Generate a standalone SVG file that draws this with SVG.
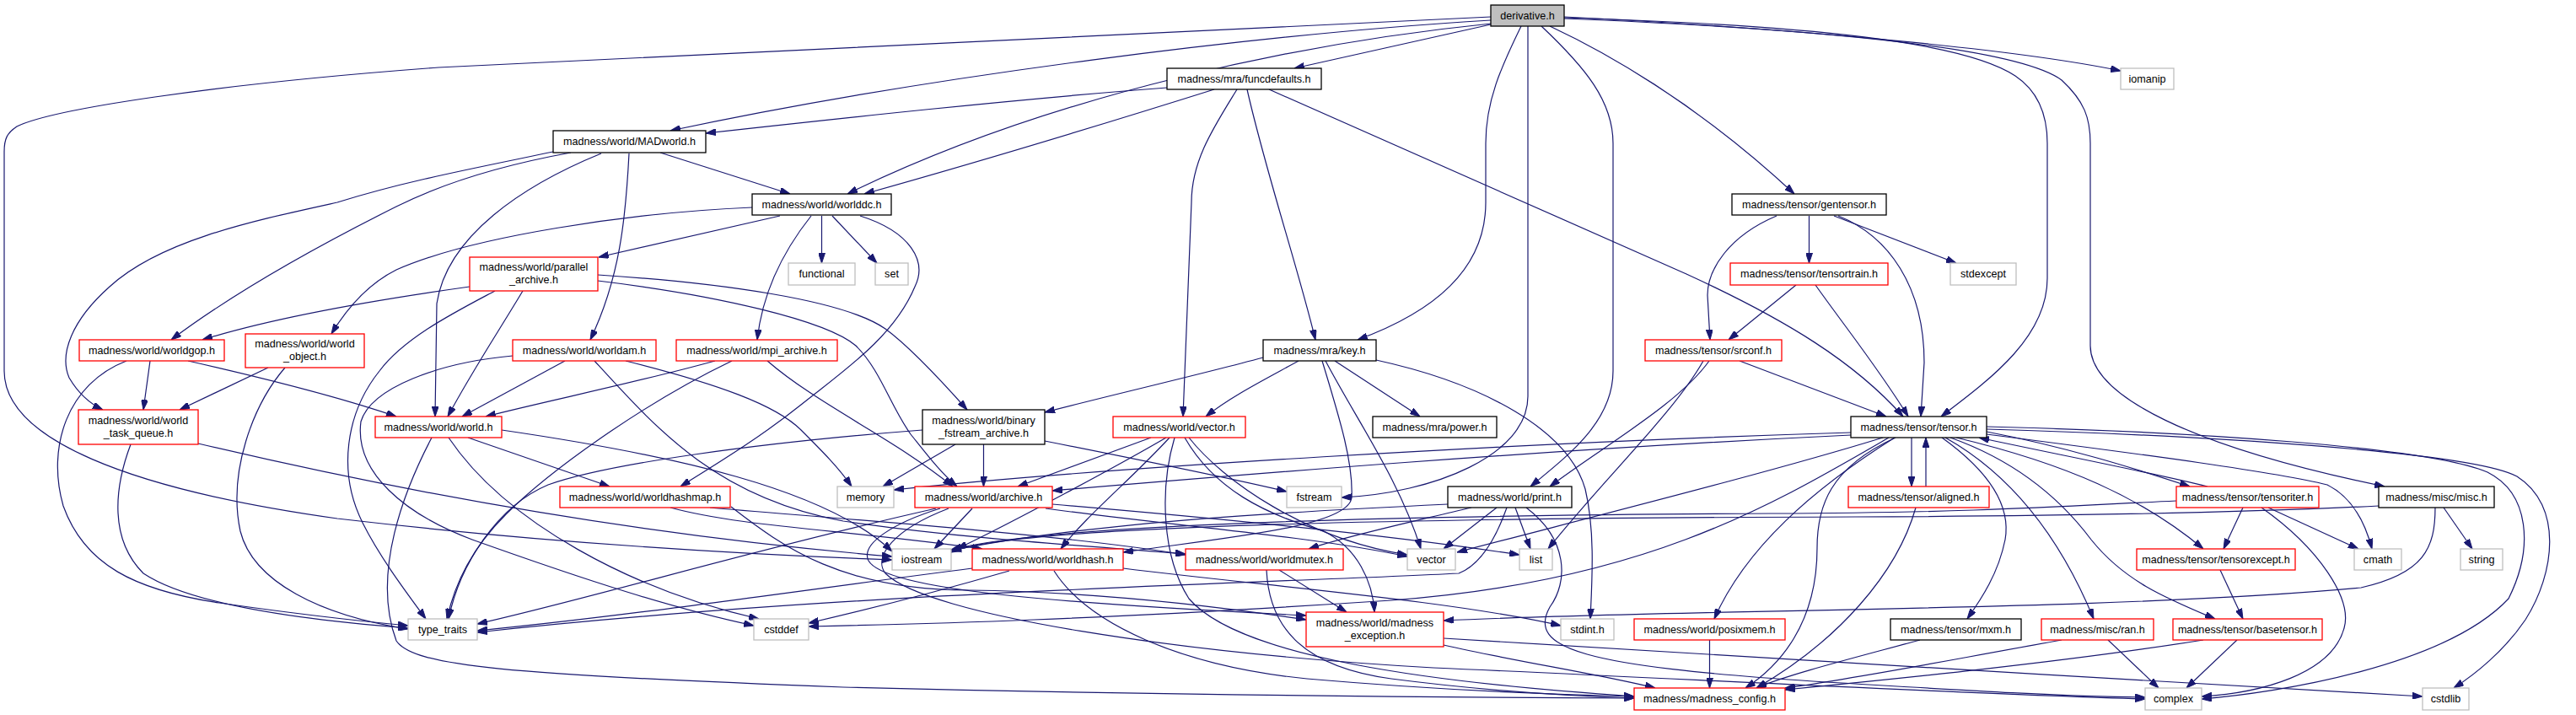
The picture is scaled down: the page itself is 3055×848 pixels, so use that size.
<svg xmlns="http://www.w3.org/2000/svg" width="3055" height="848" viewBox="0 0 3055 848">
<style>
.e{fill:none;stroke:#191970;stroke-width:1.2;marker-end:url(#ah)}
rect{fill:#fff;stroke-width:1.3}
.k{stroke:#000}
.r{stroke:#ff0000}
.g{stroke:#bfbfbf}
.root{fill:#bfbfbf;stroke:#000}
text{font-family:"Liberation Sans",Arial,sans-serif;font-size:12.6px;text-anchor:middle;fill:#000}
</style>
<defs>
<marker id="ah" markerWidth="12" markerHeight="8" refX="12" refY="4" orient="auto" markerUnits="userSpaceOnUse"><path d="M0,0 L12,4 L0,8 z" fill="#191970" stroke="#191970" stroke-width="1"/></marker>
</defs>
<rect x="0" y="0" width="3055" height="848" style="fill:#fff;stroke:none"/>
<g id="edges">
<path class="e" d="M1768,20 L520,80 C250,100 60,130 20,150 C8,158 5,165 5,180 L5,440 C5,520 150,580 400,615 C700,650 950,660 1058,664"/>
<path class="e" d="M1855,20 C2150,35 2400,60 2515,84"/>
<path class="e" d="M1812,31 L1812,470 C1812,540 1700,585 1591,590"/>
<path class="e" d="M1768,24 C1500,40 1100,90 795,155"/>
<path class="e" d="M1768,28 C1550,50 1250,110 1005,230"/>
<path class="e" d="M1768,29 C1680,48 1600,66 1535,81"/>
<path class="e" d="M1804,31 C1780,80 1762,120 1762,170 L1762,240 C1762,320 1700,370 1610,403"/>
<path class="e" d="M1828,31 C1880,80 1913,120 1913,170 L1913,440 C1913,500 1860,540 1815,577"/>
<path class="e" d="M1855,21 C2150,30 2330,50 2390,90 C2420,110 2428,140 2428,170 L2428,330 C2428,400 2360,450 2302,494"/>
<path class="e" d="M1838,31 C1900,60 2010,120 2128,230"/>
<path class="e" d="M1855,22 C2150,34 2390,55 2445,95 C2472,120 2479,140 2479,170 L2479,410 C2479,470 2600,530 2828,577"/>
<path class="e" d="M1384,104 C1200,118 1000,140 837,158"/>
<path class="e" d="M1440,106 C1300,150 1150,195 1025,230"/>
<path class="e" d="M1479,106 C1500,200 1540,320 1560,403"/>
<path class="e" d="M1467,106 C1440,150 1413,190 1413,240 L1403,494"/>
<path class="e" d="M1505,106 L2000,325 C2120,380 2200,430 2257,494"/>
<path class="e" d="M677,181 C600,195 530,215 470,245 C380,290 280,345 203,403"/>
<path class="e" d="M656,180 C560,200 480,215 400,240 C300,262 190,285 130,340 C85,380 70,420 82,448 C92,465 105,478 122,486"/>
<path class="e" d="M713,182 C620,220 530,280 518,360 L516,494"/>
<path class="e" d="M746,182 C742,260 735,330 700,403"/>
<path class="e" d="M783,181 L937,230"/>
<path class="e" d="M892,246 C750,252 560,280 470,320 C440,335 415,360 393,396"/>
<path class="e" d="M925,256 L710,305"/>
<path class="e" d="M974.5,256 L974.5,312"/>
<path class="e" d="M987,256 L1040,312"/>
<path class="e" d="M962,256 C935,290 905,340 898,403"/>
<path class="e" d="M1020,256 C1080,275 1100,310 1085,340 C1060,400 1000,440 950,480 C900,520 850,550 807,577"/>
<path class="e" d="M2107,256 C2050,280 2025,320 2025,350 L2028,403"/>
<path class="e" d="M2145.5,256 L2145.5,312"/>
<path class="e" d="M2175,256 L2320,312"/>
<path class="e" d="M2180,256 C2240,280 2282,340 2282,430 L2278,494"/>
<path class="e" d="M557,340 C450,355 330,375 240,403"/>
<path class="e" d="M620,345 C590,395 560,440 531,494"/>
<path class="e" d="M587,345 C540,370 480,400 450,440 C410,490 400,560 430,620 C450,660 480,700 505,734"/>
<path class="e" d="M709,326 C850,335 1000,355 1050,390 C1080,412 1115,450 1147,486"/>
<path class="e" d="M709,333 C850,350 980,380 1015,410 C1045,440 1055,480 1080,515 C1100,540 1115,560 1135,577"/>
<path class="e" d="M2130,338 L2050,403"/>
<path class="e" d="M2153,338 C2190,390 2230,440 2263,494"/>
<path class="e" d="M178,428 L170,486"/>
<path class="e" d="M150,428 C80,455 55,530 75,600 C100,670 160,700 260,715 C350,728 420,736 484,742"/>
<path class="e" d="M223,428 C320,450 400,470 470,494"/>
<path class="e" d="M318,436 L213,486"/>
<path class="e" d="M338,436 C300,480 270,560 285,630 C300,690 380,730 484,746"/>
<path class="e" d="M670,428 L548,494"/>
<path class="e" d="M742,428 C850,455 920,480 950,510 C975,535 995,555 1010,577"/>
<path class="e" d="M608,422 C520,430 440,460 428,500 C420,560 480,610 560,640 C700,690 800,722 894,742"/>
<path class="e" d="M705,428 C780,510 850,590 1000,618 C1150,640 1300,648 1406,657"/>
<path class="e" d="M848,428 C750,455 650,475 576,494"/>
<path class="e" d="M868,428 C760,480 650,560 600,610 C560,650 540,690 530,734"/>
<path class="e" d="M910,428 C970,480 1060,520 1130,577"/>
<path class="e" d="M1498,424 C1420,445 1320,468 1239,489"/>
<path class="e" d="M1540,428 C1500,450 1460,470 1430,494"/>
<path class="e" d="M1583,428 L1684,494"/>
<path class="e" d="M1568,428 C1590,500 1605,550 1603,590 C1600,625 1450,638 1332,655"/>
<path class="e" d="M1572,428 C1610,500 1660,570 1685,651"/>
<path class="e" d="M1632,427 C1760,455 1860,510 1880,580 C1892,630 1888,690 1886,734"/>
<path class="e" d="M2063,428 L2237,494"/>
<path class="e" d="M2027,428 C1990,480 1900,530 1838,577"/>
<path class="e" d="M2020,428 C1985,490 1900,570 1836,651"/>
<path class="e" d="M155,527 C135,580 130,640 170,680 C230,720 380,737 484,745"/>
<path class="e" d="M235,526 C400,565 700,630 1058,660"/>
<path class="e" d="M555,519 L723,577"/>
<path class="e" d="M532,519 C600,620 750,700 900,734"/>
<path class="e" d="M512,519 C480,580 440,680 470,760 C490,790 600,800 1000,815 C1400,825 1700,827 1938,828"/>
<path class="e" d="M595,510 C800,540 980,580 1058,654"/>
<path class="e" d="M1133,527 L1047,577"/>
<path class="e" d="M1166.5,527 L1166.5,577"/>
<path class="e" d="M1094,510 C900,525 720,550 650,575 C590,600 545,670 532,734"/>
<path class="e" d="M1239,523 C1350,545 1450,565 1526,583"/>
<path class="e" d="M1365,519 L1207,577"/>
<path class="e" d="M1383,519 C1330,550 1200,620 1135,651"/>
<path class="e" d="M1387,519 C1340,570 1290,610 1258,651"/>
<path class="e" d="M1405,519 C1440,580 1500,610 1570,630 C1610,650 1628,690 1630,726"/>
<path class="e" d="M1410,519 C1450,570 1550,640 1669,658"/>
<path class="e" d="M1393,519 C1375,580 1378,660 1410,710 C1470,780 1700,810 1938,826"/>
<path class="e" d="M2195,513 C1800,525 1300,555 1060,581"/>
<path class="e" d="M2195,516 C1800,535 1450,565 1248,582"/>
<path class="e" d="M2233,519 C2100,560 1900,610 1728,655"/>
<path class="e" d="M2240,519 C2100,600 1950,690 1650,712 C1300,735 1100,740 959,743"/>
<path class="e" d="M2247,519 C2150,580 2070,650 2033,734"/>
<path class="e" d="M2248,519 C2170,555 2155,600 2155,650 C2155,740 2110,790 2070,816"/>
<path class="e" d="M2267,519 L2267,577"/>
<path class="e" d="M2284,577 L2284,519"/>
<path class="e" d="M2303,519 C2360,560 2385,600 2378,640 C2370,680 2350,710 2333,734"/>
<path class="e" d="M2307,519 C2380,560 2440,630 2483,734"/>
<path class="e" d="M2313,519 C2400,550 2450,600 2480,640 C2520,690 2570,710 2627,734"/>
<path class="e" d="M2320,519 C2450,550 2540,590 2613,651"/>
<path class="e" d="M2356,512 C2450,530 2530,555 2597,577"/>
<path class="e" d="M2618,577 C2550,560 2420,535 2347,519"/>
<path class="e" d="M2356,506 C2600,512 2880,530 2950,560 C3000,585 3005,650 2975,710 C2900,790 2700,822 2611,829"/>
<path class="e" d="M2356,509 C2600,516 2930,535 2985,565 C3040,600 3030,680 2995,735 C2970,772 2935,800 2910,816"/>
<path class="e" d="M2356,515 C2550,540 2700,560 2760,575 C2790,590 2805,620 2813,651"/>
<path class="e" d="M2272,602 C2250,680 2180,760 2083,816"/>
<path class="e" d="M2660,602 L2637,651"/>
<path class="e" d="M2690,602 L2797,651"/>
<path class="e" d="M2682,602 C2750,650 2790,710 2780,745 C2765,800 2680,822 2611,826"/>
<path class="e" d="M2581,594 C2450,600 2350,608 2100,609 C1700,611 1250,620 1128,652"/>
<path class="e" d="M2821,600 C2700,606 2500,612 2200,613 C1800,614 1200,620 1128,655"/>
<path class="e" d="M2898,602 L2932,651"/>
<path class="e" d="M2888,602 C2888,650 2875,680 2800,697 C2500,725 2000,722 1712,736"/>
<path class="e" d="M842,602 C950,612 1250,632 1406,658"/>
<path class="e" d="M795,602 C880,625 1000,628 1165,651"/>
<path class="e" d="M867,601 C930,650 1000,700 1150,700 C1300,702 1450,720 1549,735"/>
<path class="e" d="M1153,603 L1108,651"/>
<path class="e" d="M1110,603 C900,650 700,710 566,740"/>
<path class="e" d="M1115,603 C1060,620 1020,645 1030,665 C1050,700 1250,715 1549,730"/>
<path class="e" d="M1125,603 C1060,628 1035,660 1050,680 C1100,730 1400,775 1700,792 C2000,805 2300,822 2544,829"/>
<path class="e" d="M1248,598 C1450,615 1650,635 1802,658"/>
<path class="e" d="M1240,603 C1400,625 1550,635 1669,660"/>
<path class="e" d="M1153,674 C950,700 750,730 566,748"/>
<path class="e" d="M1197,677 C1100,705 1020,725 959,739"/>
<path class="e" d="M1332,674 C1500,695 1720,712 1851,742"/>
<path class="e" d="M1250,677 C1290,740 1400,790 1550,805 C1700,818 1850,824 1938,826"/>
<path class="e" d="M1517,676 L1597,726"/>
<path class="e" d="M1502,676 C1505,740 1540,790 1650,805 C1750,818 1850,825 1938,828"/>
<path class="e" d="M1717,598 C1550,606 1300,618 1128,653"/>
<path class="e" d="M1775,602 L1712,651"/>
<path class="e" d="M1797,602 L1815,651"/>
<path class="e" d="M1745,602 C1670,620 1600,635 1552,651"/>
<path class="e" d="M1787,602 C1770,650 1750,672 1730,680 C1500,692 1000,702 566,750"/>
<path class="e" d="M1810,602 C1860,640 1860,690 1838,720 C1810,770 1880,790 2150,808 C2350,820 2450,826 2544,827"/>
<path class="e" d="M1712,765 C1800,785 1900,800 1963,816"/>
<path class="e" d="M1712,757 C2000,775 2500,805 2873,826"/>
<path class="e" d="M2633,676 L2660,734"/>
<path class="e" d="M2653,759 L2593,816"/>
<path class="e" d="M2613,759 C2450,785 2250,805 2117,818"/>
<path class="e" d="M2500,759 L2560,816"/>
<path class="e" d="M2445,759 C2300,785 2200,805 2117,816"/>
<path class="e" d="M2277,759 C2200,780 2120,800 2083,816"/>
<path class="e" d="M2027.5,759 L2027.5,816"/>
</g>
<g id="n-derivative"><rect class="root" x="1768" y="6" width="87" height="25"/><text x="1811.5" y="23">derivative.h</text></g>
<g id="n-funcdefaults"><rect class="k" x="1384" y="81" width="183" height="25"/><text x="1475.5" y="98">madness/mra/funcdefaults.h</text></g>
<g id="n-iomanip"><rect class="g" x="2515" y="81" width="63" height="25"/><text x="2546.5" y="98">iomanip</text></g>
<g id="n-madworld"><rect class="k" x="656" y="155" width="181" height="26"/><text x="746.5" y="172">madness/world/MADworld.h</text></g>
<g id="n-worlddc"><rect class="k" x="892" y="230" width="165" height="25"/><text x="974.5" y="247">madness/world/worlddc.h</text></g>
<g id="n-gentensor"><rect class="k" x="2054" y="230" width="183" height="25"/><text x="2145.5" y="247">madness/tensor/gentensor.h</text></g>
<g id="n-parallel_archive"><rect class="r" x="557" y="305" width="152" height="40"/><text x="633" y="321">madness/world/parallel</text><text x="633" y="336">_archive.h</text></g>
<g id="n-functional"><rect class="g" x="935" y="312" width="79" height="26"/><text x="974.5" y="329">functional</text></g>
<g id="n-set"><rect class="g" x="1038" y="312" width="39" height="26"/><text x="1057.5" y="329">set</text></g>
<g id="n-tensortrain"><rect class="r" x="2052" y="312" width="187" height="26"/><text x="2145.5" y="329">madness/tensor/tensortrain.h</text></g>
<g id="n-stdexcept"><rect class="g" x="2313" y="312" width="78" height="26"/><text x="2352" y="329">stdexcept</text></g>
<g id="n-worldgop"><rect class="r" x="94" y="403" width="172" height="25"/><text x="180" y="420">madness/world/worldgop.h</text></g>
<g id="n-world_object"><rect class="r" x="291" y="396" width="141" height="40"/><text x="361.5" y="412">madness/world/world</text><text x="361.5" y="427">_object.h</text></g>
<g id="n-worldam"><rect class="r" x="608" y="403" width="170" height="25"/><text x="693" y="420">madness/world/worldam.h</text></g>
<g id="n-mpi_archive"><rect class="r" x="802" y="403" width="191" height="25"/><text x="897.5" y="420">madness/world/mpi_archive.h</text></g>
<g id="n-key"><rect class="k" x="1498" y="403" width="134" height="25"/><text x="1565" y="420">madness/mra/key.h</text></g>
<g id="n-srconf"><rect class="r" x="1951" y="403" width="162" height="25"/><text x="2032" y="420">madness/tensor/srconf.h</text></g>
<g id="n-world_task_queue"><rect class="r" x="93" y="486" width="142" height="41"/><text x="164" y="503">madness/world/world</text><text x="164" y="518">_task_queue.h</text></g>
<g id="n-world"><rect class="r" x="445" y="494" width="150" height="25"/><text x="520" y="511">madness/world/world.h</text></g>
<g id="n-binary_fstream_archive"><rect class="k" x="1094" y="486" width="145" height="41"/><text x="1166.5" y="503">madness/world/binary</text><text x="1166.5" y="518">_fstream_archive.h</text></g>
<g id="n-world_vector"><rect class="r" x="1320" y="494" width="157" height="25"/><text x="1398.5" y="511">madness/world/vector.h</text></g>
<g id="n-power"><rect class="k" x="1628" y="494" width="147" height="25"/><text x="1701.5" y="511">madness/mra/power.h</text></g>
<g id="n-tensor"><rect class="k" x="2195" y="494" width="161" height="25"/><text x="2275.5" y="511">madness/tensor/tensor.h</text></g>
<g id="n-worldhashmap"><rect class="r" x="664" y="577" width="202" height="25"/><text x="765" y="594">madness/world/worldhashmap.h</text></g>
<g id="n-memory"><rect class="g" x="993" y="577" width="67" height="25"/><text x="1026.5" y="594">memory</text></g>
<g id="n-archive"><rect class="r" x="1085" y="577" width="163" height="25"/><text x="1166.5" y="594">madness/world/archive.h</text></g>
<g id="n-fstream"><rect class="g" x="1526" y="577" width="65" height="25"/><text x="1558.5" y="594">fstream</text></g>
<g id="n-print"><rect class="k" x="1717" y="577" width="147" height="25"/><text x="1790.5" y="594">madness/world/print.h</text></g>
<g id="n-aligned"><rect class="r" x="2192" y="577" width="167" height="25"/><text x="2275.5" y="594">madness/tensor/aligned.h</text></g>
<g id="n-tensoriter"><rect class="r" x="2581" y="577" width="169" height="25"/><text x="2665.5" y="594">madness/tensor/tensoriter.h</text></g>
<g id="n-misc"><rect class="k" x="2821" y="577" width="137" height="25"/><text x="2889.5" y="594">madness/misc/misc.h</text></g>
<g id="n-iostream"><rect class="g" x="1058" y="651" width="70" height="25"/><text x="1093" y="668">iostream</text></g>
<g id="n-worldhash"><rect class="r" x="1153" y="651" width="179" height="25"/><text x="1242.5" y="668">madness/world/worldhash.h</text></g>
<g id="n-worldmutex"><rect class="r" x="1406" y="651" width="187" height="25"/><text x="1499.5" y="668">madness/world/worldmutex.h</text></g>
<g id="n-vector"><rect class="g" x="1669" y="651" width="57" height="25"/><text x="1697.5" y="668">vector</text></g>
<g id="n-list"><rect class="g" x="1802" y="651" width="39" height="25"/><text x="1821.5" y="668">list</text></g>
<g id="n-tensorexcept"><rect class="r" x="2534" y="651" width="188" height="25"/><text x="2628" y="668">madness/tensor/tensorexcept.h</text></g>
<g id="n-cmath"><rect class="g" x="2792" y="651" width="56" height="25"/><text x="2820" y="668">cmath</text></g>
<g id="n-string"><rect class="g" x="2918" y="651" width="50" height="25"/><text x="2943" y="668">string</text></g>
<g id="n-type_traits"><rect class="g" x="484" y="734" width="82" height="25"/><text x="525" y="751">type_traits</text></g>
<g id="n-cstddef"><rect class="g" x="894" y="734" width="65" height="25"/><text x="926.5" y="751">cstddef</text></g>
<g id="n-madness_exception"><rect class="r" x="1549" y="726" width="163" height="41"/><text x="1630.5" y="743">madness/world/madness</text><text x="1630.5" y="758">_exception.h</text></g>
<g id="n-stdint"><rect class="g" x="1851" y="734" width="63" height="25"/><text x="1882.5" y="751">stdint.h</text></g>
<g id="n-posixmem"><rect class="r" x="1938" y="734" width="179" height="25"/><text x="2027.5" y="751">madness/world/posixmem.h</text></g>
<g id="n-mxm"><rect class="k" x="2242" y="734" width="155" height="25"/><text x="2319.5" y="751">madness/tensor/mxm.h</text></g>
<g id="n-ran"><rect class="r" x="2421" y="734" width="133" height="25"/><text x="2487.5" y="751">madness/misc/ran.h</text></g>
<g id="n-basetensor"><rect class="r" x="2577" y="734" width="177" height="25"/><text x="2665.5" y="751">madness/tensor/basetensor.h</text></g>
<g id="n-madness_config"><rect class="r" x="1938" y="816" width="179" height="26"/><text x="2027.5" y="833">madness/madness_config.h</text></g>
<g id="n-complex"><rect class="g" x="2544" y="816" width="67" height="26"/><text x="2577.5" y="833">complex</text></g>
<g id="n-cstdlib"><rect class="g" x="2873" y="816" width="55" height="26"/><text x="2900.5" y="833">cstdlib</text></g>
</svg>
